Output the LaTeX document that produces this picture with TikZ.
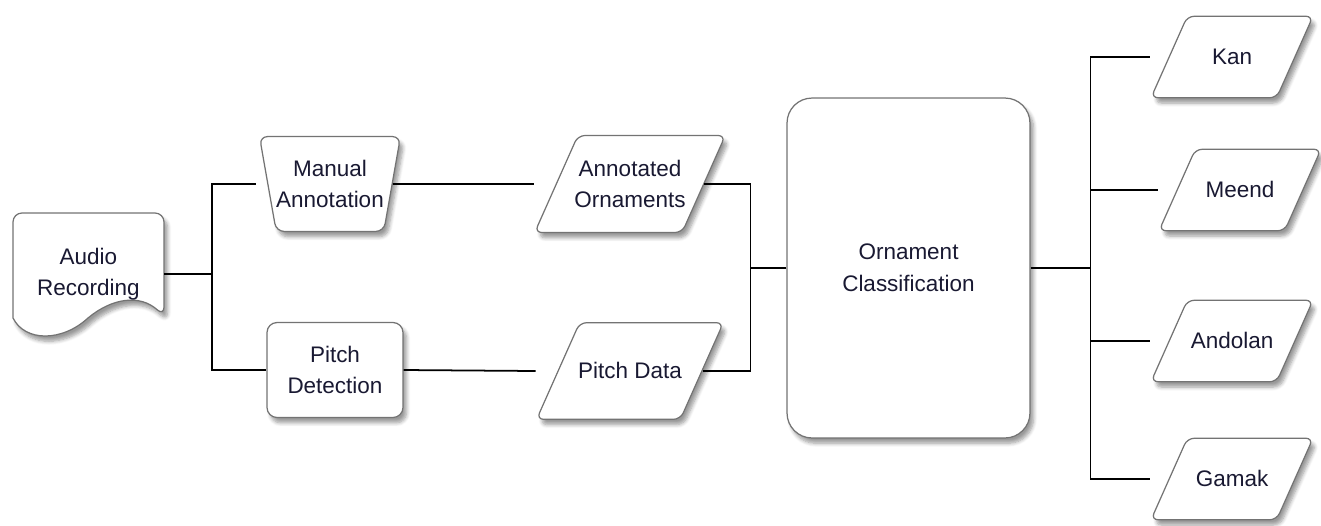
\documentclass[tikz,border=0pt]{standalone}
\usepackage{fontspec}
\setmainfont{Liberation Sans}
\usetikzlibrary{shapes.geometric, shadows.blur}
\definecolor{omBorder}{RGB}{115,115,115}
\definecolor{omText}{RGB}{25,25,50}

\begin{document}
\begin{tikzpicture}[x=0.02cm, y=-0.02cm,
    font=\fontsize{12.8}{18}\selectfont,
    box/.style={draw=omBorder, line width=0.7pt, fill=white, text=omText, align=center, inner sep=0pt,
      blur shadow={shadow xshift=2pt, shadow yshift=-3pt, shadow blur steps=6, shadow opacity=40}},
    procbox/.style={box, rectangle, rounded corners=0.2cm, minimum width=2.72cm, minimum height=1.9cm},
    manualbox/.style={box, trapezium, shape border rotate=180, trapezium left angle=80, trapezium right angle=80,
      trapezium stretches body=true, rounded corners=0.16cm, minimum width=2.74cm, inner ysep=13.3pt},
    databox/.style={box, trapezium, trapezium left angle=66, trapezium right angle=114,
      trapezium stretches body=true, rounded corners=0.14cm, minimum width=3.3cm, inner ysep=13.9pt, inner xsep=-0.07cm},
    onebox/.style={databox, text height=9pt, text depth=0pt, inner xsep=-0.03cm, inner ysep=23pt},
    outbox/.style={onebox, minimum width=3.24cm, inner xsep=0pt, inner ysep=18.7pt},
    link/.style={draw=black, line width=1pt}
  ]
    \useasboundingbox (0,0) rectangle (1321,525);

    % audio document shape
    \path[draw=omBorder, line width=0.7pt, fill=white, rounded corners=0.18cm,
      blur shadow={shadow xshift=2pt, shadow yshift=-3pt, shadow blur steps=6, shadow opacity=40}]
      (13,318) -- (13,213) -- (164,213) -- (164,316)
      [rounded corners=0pt] .. controls (140,294) and (112,298) .. (88,318)
      .. controls (62,342) and (25,342) .. (13,318) -- cycle;
    \node[text=omText, align=center, inner sep=0pt, minimum width=3.02cm] (audio) at (88.5,274) {Audio\\Recording};

    \node[manualbox] (man) at (330,184) {Manual\\Annotation};
    \node[procbox] (pitch) at (335,370) {Pitch\\Detection};
    \node[databox] (annot) at (630,184) {Annotated\\Ornaments};
    \node[onebox] (pdata) at (630,371) {Pitch Data};
    \node[box, rectangle, rounded corners=0.5cm, minimum width=4.86cm, minimum height=6.8cm] (cls) at (908.5,268) {Ornament\\Classification};

    \node[outbox] (kan) at (1232,57) {Kan};
    \node[outbox] (meend) at (1240,190) {Meend};
    \node[outbox] (andolan) at (1232,341) {Andolan};
    \node[outbox] (gamak) at (1232,479) {Gamak};

    % connectors
    \draw[link] (audio.east) -- ++(48,0) coordinate (splitA);
    \draw[link] (splitA) |- ([xshift=-0.22cm]man.west);
    \draw[link] (splitA) |- (pitch.west);
    \draw[link] (man.east) -- (annot.west -| annot.bottom left corner);
    \draw[link] (pitch.east) -- (pdata.west -| pdata.bottom left corner);
    \draw[link] (cls.west) -- ++(-36,0) coordinate (splitB);
    \draw[link] (splitB) |- (annot.east);
    \draw[link] (splitB) |- (pdata.east);
    \draw[link] (cls.east) -- ++(60,0) coordinate (splitC);
    \foreach \n in {kan,meend,andolan,gamak}
      \draw[link] (splitC) |- (\n.west -| \n.bottom left corner);
\end{tikzpicture}
\end{document}
